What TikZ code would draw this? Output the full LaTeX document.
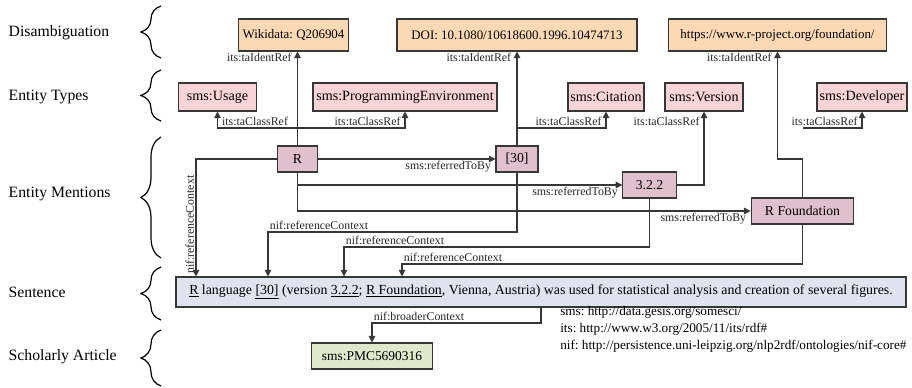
\documentclass[tikz,border=0pt]{standalone}
\usepackage{fontspec}
\setmainfont{Liberation Serif}
\usepackage{xcolor}
\usetikzlibrary{arrows.meta, decorations.pathreplacing}
\definecolor{disambfill}{RGB}{252,217,181}
\definecolor{typefill}{RGB}{249,212,215}
\definecolor{mentionfill}{RGB}{224,192,204}
\definecolor{sentfill}{RGB}{221,228,237}
\definecolor{articlefill}{RGB}{221,233,203}
\definecolor{linegray}{RGB}{55,55,55}
\frenchspacing

\begin{document}
\begin{tikzpicture}[
    x=0.75pt, y=-0.75pt,
    box/.style={rectangle, draw=linegray, line width=0.8pt, inner sep=1pt},
    disamb/.style={box, fill=disambfill, minimum height=24pt, font=\fontsize{9.7}{11}\selectfont},
    etype/.style={box, fill=typefill, minimum height=21pt, font=\fontsize{10.6}{12}\selectfont},
    mention/.style={box, fill=mentionfill, minimum height=19.5pt, font=\fontsize{10.3}{12}\selectfont},
    sentbox/.style={box, fill=sentfill, minimum height=22.5pt, font=\fontsize{10.4}{12}\selectfont},
    article/.style={box, fill=articlefill, minimum height=19.5pt, font=\fontsize{10.1}{12}\selectfont},
    elabel/.style={font=\fontsize{8.9}{10}\selectfont, inner sep=1pt, text=black!85},
    layer/.style={anchor=west, font=\fontsize{11.8}{14}\selectfont},
    lbrace/.style={decorate, decoration={brace, amplitude=15pt}, line width=0.9pt},
    arr/.style={-{Triangle[length=5pt, width=5pt]}, draw=linegray, line width=0.8pt}
]
\useasboundingbox (0,0) rectangle (912,388);

% Layers
\node[layer] (l1) at (4,33) {Disambiguation};
\node[layer] (l2) at (4,97) {Entity Types};
\node[layer] (l3) at (4,194) {Entity Mentions};
\node[layer] (l4) at (4,292) {Sentence};
\node[layer] (l5) at (4,357) {Scholarly Article};

\draw[lbrace] (161,58) -- (161,6);
\draw[lbrace] (161,121) -- (161,70);
\draw[lbrace] (161,258) -- (161,137);
\draw[lbrace] (161,320) -- (161,267);
\draw[lbrace] (161,386) -- (161,330);

% Disambiguation
\node[disamb, minimum width=82pt] (wiki) at (293.5,35) {Wikidata: Q206904};
\node[disamb, minimum width=180pt] (doi) at (517,35) {DOI: 10.1080/10618600.1996.10474713};
\node[disamb, minimum width=164pt] (url) at (777.5,35) {https://www.r-project.org/foundation/};

% Entity types
\node[etype, minimum width=59pt] (usage) at (217.5,97) {sms:Usage};
\node[etype, minimum width=138pt] (progenv) at (405,97) {sms:ProgrammingEnvironment};
\node[etype, minimum width=57pt] (citation) at (606,97) {sms:Citation};
\node[etype, minimum width=58.5pt] (version) at (704,97) {sms:Version};
\node[etype, minimum width=67.5pt] (developer) at (862,97) {sms:Developer};
\coordinate (tyrow) at (0,128);

% Entity mentions
\node[mention, minimum width=30pt] (r) at (297.5,159) {R};
\node[mention, minimum width=31.5pt] (cite30) at (517,159) {[30]};
\node[mention, minimum width=40pt] (ver322) at (649.5,185) {3.2.2};
\node[mention, minimum width=77pt] (rfound) at (802.5,211) {R Foundation};

% Sentence and article
\node[sentbox, minimum width=547.5pt] (sent) at (541,292) {\underline{R} language \underline{[30]} (version \underline{3.2.2}; \underline{R Foundation}, Vienna, Austria) was used for statistical analysis and creation of several figures.};
\node[article, minimum width=91pt] (pmc) at (372,356) {sms:PMC5690316};

% Namespaces
\node[anchor=west, align=left, inner sep=0pt, font=\fontsize{9.9}{13}\selectfont] (ns) at (560,329.5) {sms: http://data.gesis.org/somesci/\\its: http://www.w3.org/2005/11/its/rdf\#\\nif: http://persistence.uni-leipzig.org/nlp2rdf/ontologies/nif-core\#};

% its:taIdentRef
\draw[arr] (r) -- (r |- wiki.south) node[elabel, anchor=north east, xshift=-3pt] {its:taIdentRef};
\draw[arr] (cite30) -- (cite30 |- doi.south) node[elabel, anchor=north east, xshift=-3pt] {its:taIdentRef};
\draw[arr] (rfound.north) -- (rfound.north |- r.east) -| (url.south) node[elabel, anchor=north east, xshift=-3pt] {its:taIdentRef};

% its:taClassRef
\draw[arr] (r.north |- tyrow) -| (usage.south) node[elabel, pos=0.5, anchor=south west, xshift=2pt] {its:taClassRef};
\draw[arr] (r.north |- tyrow) -| (progenv.south) node[elabel, pos=0.5, anchor=south east, xshift=-2pt] {its:taClassRef};
\draw[arr] (cite30.north |- tyrow) -| (citation.south) node[elabel, pos=0.5, anchor=south east, xshift=-2pt] {its:taClassRef};
\draw[arr] (ver322.east) -| (version.south) node[elabel, anchor=south east, xshift=-2pt] at (version.south |- tyrow) {its:taClassRef};
\draw[arr] (rfound.north |- tyrow) -| (developer.south) node[elabel, pos=0.5, anchor=south east, xshift=-2pt] {its:taClassRef};

% sms:referredToBy
\draw[arr] (r) -- (cite30) node[elabel, pos=1, anchor=north east, xshift=-2pt] {sms:referredToBy};
\draw[arr] (r.south) |- (ver322.west) node[elabel, pos=1, anchor=north east, xshift=-2pt] {sms:referredToBy};
\draw[arr] (r.south) |- (rfound.west) node[elabel, pos=1, anchor=north east, xshift=-2pt] {sms:referredToBy};

% nif:referenceContext
\draw[arr] (r.west) -| (sent.north -| 196,0) node[elabel, pos=0.78, rotate=90, anchor=south] {nif:referenceContext};
\draw[arr] (cite30) -- (cite30 |- 0,232) -| (sent.north -| 268,0) node[elabel, pos=0.5, anchor=south west] {nif:referenceContext};
\draw[arr] (ver322) -- (ver322 |- 0,247) -| (sent.north -| 344,0) node[elabel, pos=0.5, anchor=south west] {nif:referenceContext};
\draw[arr] (rfound) -- (rfound |- 0,264) -| (sent.north -| 402,0) node[elabel, pos=0.5, anchor=south west] {nif:referenceContext};

% nif:broaderContext
\draw[arr] (sent) -- (sent |- 0,323) -| (pmc) node[elabel, pos=0.5, anchor=south west] {nif:broaderContext};

\end{tikzpicture}
\end{document}
